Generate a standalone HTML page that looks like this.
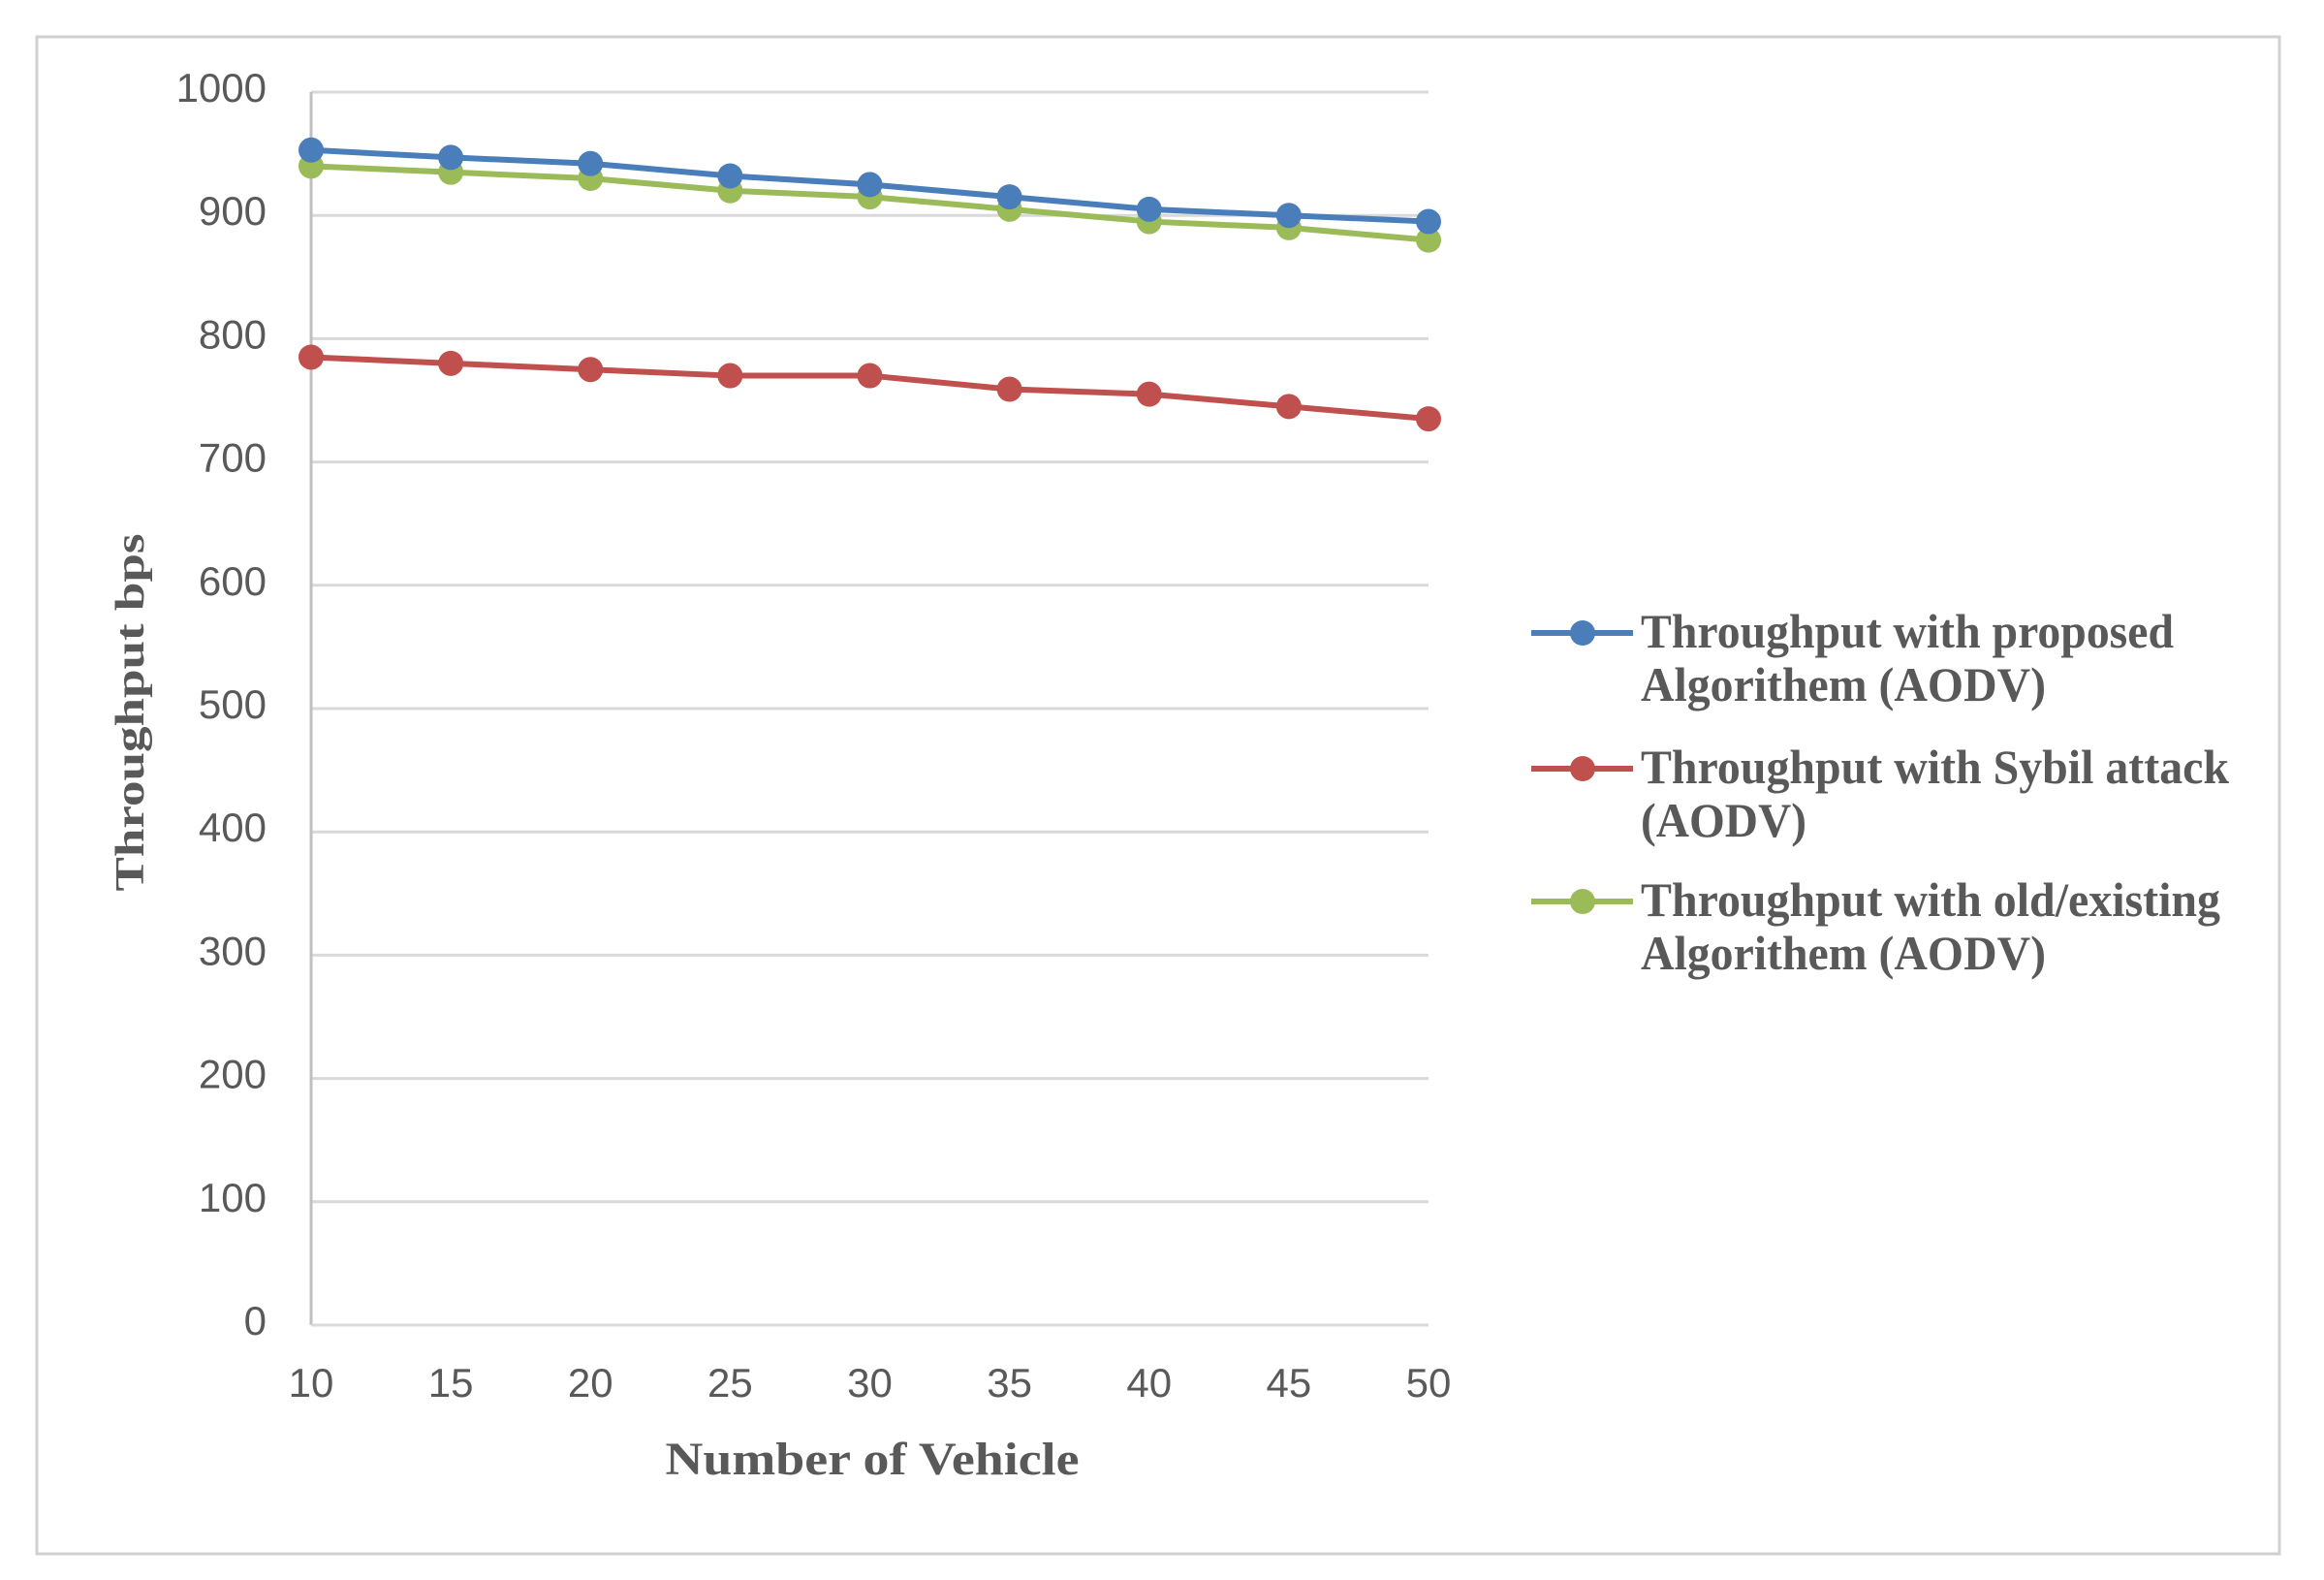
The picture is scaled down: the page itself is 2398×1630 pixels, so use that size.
<!DOCTYPE html>
<html><head><meta charset="utf-8"><style>
html,body{margin:0;padding:0;background:#fff;}
svg{display:block;}
</style></head><body>
<svg id="chart" width="2398" height="1630" viewBox="0 0 2398 1630" xmlns="http://www.w3.org/2000/svg">
<rect x="38" y="38" width="2314" height="1565" fill="#fff" stroke="#d0d0d0" stroke-width="3"/>
<g id="grid"></g>
<g id="yticks" font-family="Liberation Sans, sans-serif" font-size="42" fill="#595959" text-anchor="end"></g>
<g id="xticks" font-family="Liberation Sans, sans-serif" font-size="42" fill="#595959" text-anchor="middle"></g>
<g id="series"></g>
<text transform="translate(148,735) rotate(-90)" text-anchor="middle" font-family="Liberation Serif, serif" font-weight="bold" font-size="42" fill="#595959" textLength="369" lengthAdjust="spacingAndGlyphs">Throughput bps</text>
<text x="900" y="1521" text-anchor="middle" font-family="Liberation Serif, serif" font-weight="bold" font-size="48" fill="#595959" textLength="427" lengthAdjust="spacingAndGlyphs">Number of Vehicle</text>
<g font-family="Liberation Serif, serif" font-weight="bold" font-size="50" fill="#595959">
  <g>
    <line x1="1580" y1="653" x2="1685" y2="653" stroke="#4a7ebb" stroke-width="6"/>
    <circle cx="1633" cy="653" r="13" fill="#4a7ebb"/>
    <text x="1693" y="668" textLength="550" lengthAdjust="spacingAndGlyphs">Throughput with proposed</text>
    <text x="1693" y="723" textLength="418" lengthAdjust="spacingAndGlyphs">Algorithem (AODV)</text>
  </g>
  <g>
    <line x1="1580" y1="793" x2="1685" y2="793" stroke="#c0504d" stroke-width="6"/>
    <circle cx="1633" cy="793" r="13" fill="#c0504d"/>
    <text x="1693" y="808" textLength="607" lengthAdjust="spacingAndGlyphs">Throughput with Sybil attack</text>
    <text x="1693" y="863" textLength="171" lengthAdjust="spacingAndGlyphs">(AODV)</text>
  </g>
  <g>
    <line x1="1580" y1="930" x2="1685" y2="930" stroke="#9bbb59" stroke-width="6"/>
    <circle cx="1633" cy="930" r="13" fill="#9bbb59"/>
    <text x="1693" y="945" textLength="598" lengthAdjust="spacingAndGlyphs">Throughput with old/existing</text>
    <text x="1693" y="1000" textLength="418" lengthAdjust="spacingAndGlyphs">Algorithem (AODV)</text>
  </g>
</g>
</svg>
<script>
const categories = [10, 15, 20, 25, 30, 35, 40, 45, 50];
const proposed = [953, 947, 942, 932, 925, 915, 905, 900, 895];
const sybil = [785, 780, 775, 770, 770, 759, 755, 745, 735];
const existing = [940, 935, 930, 920, 915, 905, 895, 890, 880];
const yTicks = [0, 100, 200, 300, 400, 500, 600, 700, 800, 900, 1000];

const NS = 'http://www.w3.org/2000/svg';
const x0 = 321, x1 = 1474, yTop = 95, yBot = 1367;
function xs(v){ return x0 + (v - categories[0]) / (categories[categories.length-1] - categories[0]) * (x1 - x0); }
function ys(v){ return yBot - v / 1000 * (yBot - yTop); }
function mk(tag, attrs, parent){
  const e = document.createElementNS(NS, tag);
  for (const k in attrs) e.setAttribute(k, attrs[k]);
  parent.appendChild(e);
  return e;
}
const grid = document.getElementById('grid');
const yt = document.getElementById('yticks');
const xt = document.getElementById('xticks');
yTicks.forEach(t => {
  if (t > 0) {
    const g = mk('line', {x1: x0, x2: x1, y1: ys(t), y2: ys(t), stroke: '#d9d9d9', 'stroke-width': 3}, grid);
    
    
  }
  const tx = mk('text', {x: 275, y: ys(t) + 10}, yt);
  tx.textContent = t;
  
  
});
const ax = mk('line', {x1: x0, x2: x0, y1: yTop, y2: yBot, stroke: '#bfbfbf', 'stroke-width': 3}, grid);


const bx = mk('line', {x1: x0, x2: x1, y1: yBot, y2: yBot, stroke: '#d9d9d9', 'stroke-width': 3}, grid);


categories.forEach(c => {
  const tx = mk('text', {x: xs(c), y: 1441}, xt);
  tx.textContent = c;
  
  
});
const ser = document.getElementById('series');
[[existing, '#9bbb59', 'existing'], [proposed, '#4a7ebb', 'proposed'], [sybil, '#c0504d', 'sybil']].forEach(([vals, col, name]) => {
  const g = mk('g', {}, ser);
  
  
  const pts = vals.map((v, i) => xs(categories[i]) + ',' + ys(v)).join(' ');
  const pl = mk('polyline', {points: pts, fill: 'none', stroke: col, 'stroke-width': 6, 'stroke-linejoin': 'round'}, g);
  
  
  vals.forEach((v, i) => {
    const c = mk('circle', {cx: xs(categories[i]), cy: ys(v), r: 13, fill: col}, g);
    
    
  });
});
</script>
</body></html>
